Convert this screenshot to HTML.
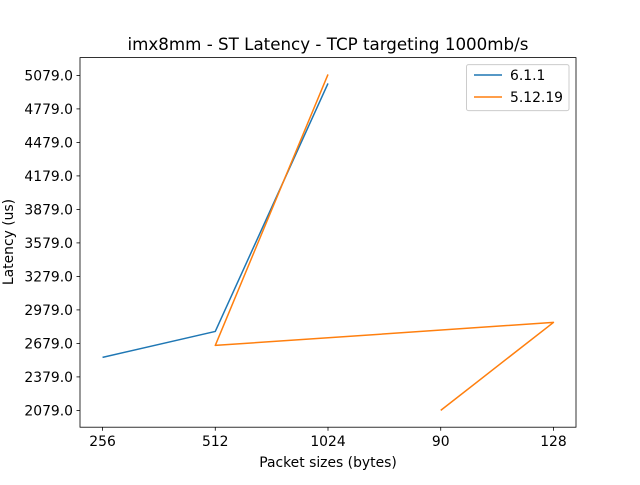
<!DOCTYPE html>
<html><head><meta charset="utf-8"><style>
body{margin:0;background:#fff;}
svg text{font-family:"DejaVu Sans","Liberation Sans",sans-serif;fill:#000;}
</style></head><body>
<svg id="chart" width="640" height="480" xmlns="http://www.w3.org/2000/svg">
<rect width="640" height="480" fill="#fff"/>
<text x="328" y="50" font-size="16.7" text-anchor="middle">imx8mm - ST Latency - TCP targeting 1000mb/s</text>
<g id="grid"></g>
<g id="series"></g>
<rect x="80" y="57.6" width="496" height="369.6" fill="none" stroke="#000" stroke-width="0.8"/>
<text x="328" y="467" font-size="13.9" text-anchor="middle">Packet sizes (bytes)</text>
<text transform="translate(13,242) rotate(-90)" font-size="13.9" text-anchor="middle">Latency (us)</text>
<g>
<rect x="466.5" y="64.6" width="102.5" height="46" fill="#fff" stroke="#ccc" stroke-width="1" rx="2"/>
<line x1="474" y1="75" x2="502" y2="75" stroke="#1f77b4" stroke-width="1.5"/>
<text x="510" y="80" font-size="13.9">6.1.1</text>
<line x1="474" y1="97" x2="502" y2="97" stroke="#ff7f0e" stroke-width="1.5"/>
<text x="510" y="102" font-size="13.9">5.12.19</text>
</g>
</svg>
<script>
const categories = ["256","512","1024","90","128"];
const series611X = [0,1,2];
const series611Y = [2554,2786,5007];
const series51219X = [2,1,4,3];
const series51219Y = [5088,2661,2867,2079];
const yTicks = [2079,2379,2679,2979,3279,3579,3879,4179,4479,4779,5079];

const L=80,R=576,T=57.6,B=427.2;
const xMin=-0.2,xMax=categories.length-1+0.2;
const allY=series611Y.concat(series51219Y);
const dMin=Math.min(...allY),dMax=Math.max(...allY),pad=(dMax-dMin)*0.05;
const yMin=dMin-pad,yMax=dMax+pad;
const xs=i=>L+(i-xMin)/(xMax-xMin)*(R-L);
const ys=v=>B-(v-yMin)/(yMax-yMin)*(B-T);
const NS="http://www.w3.org/2000/svg";
const g=document.getElementById('grid');
function mk(tag,attrs,parent){const e=document.createElementNS(NS,tag);for(const k in attrs)e.setAttribute(k,attrs[k]);parent.appendChild(e);return e;}
categories.forEach((c,i)=>{
  const x=xs(i);
  const t=mk('line',{x1:x,x2:x,y1:B,y2:B+3.5,stroke:'#000','stroke-width':0.8},g);
  
  
  const lb=mk('text',{x:x,y:B+19,'font-size':13.9,'text-anchor':'middle'},g);
  lb.textContent=c;
  
  
});
yTicks.forEach(v=>{
  const y=ys(v);
  const t=mk('line',{x1:L-3.5,x2:L,y1:y,y2:y,stroke:'#000','stroke-width':0.8},g);
  
  
  const lb=mk('text',{x:L-7,y:y+5,'font-size':13.9,'text-anchor':'end'},g);
  lb.textContent=v.toFixed(1);
  
  
});
const s=document.getElementById('series');
function line(xa,ya,color,name){
  const p=mk('polyline',{points:xa.map((x,i)=>xs(x)+','+ys(ya[i])).join(' '),fill:'none',stroke:color,'stroke-width':1.5,'stroke-linejoin':'round'},s);
  
  
}
line(series611X,series611Y,'#1f77b4','series-6-1-1');
line(series51219X,series51219Y,'#ff7f0e','series-5-12-19');
</script>
</body></html>
